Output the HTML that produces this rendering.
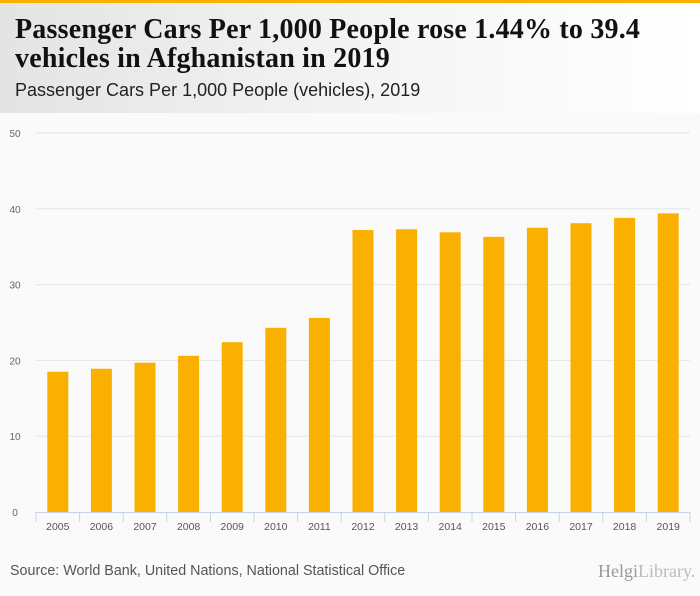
<!DOCTYPE html>
<html><head><meta charset="utf-8"><style>
body{margin:0;width:700px;height:596px;background:#fafafa;font-family:"Liberation Sans",sans-serif;overflow:hidden;position:relative}
#top{position:absolute;left:0;top:0;width:700px;height:3px;background:#f9b000}
#hdr{position:absolute;left:0;top:3px;width:700px;height:110px;background:linear-gradient(to right,#e4e4e4,#f6f6f6 60%,#ffffff)}
h1{position:absolute;left:15px;top:15px;margin:0;font-family:"Liberation Serif",serif;font-weight:bold;font-size:28px;line-height:29px;color:#111;letter-spacing:0.2px}
#sub{position:absolute;left:15px;top:80px;font-size:18px;color:#222}
#src{position:absolute;left:10px;top:563px;font-size:14.3px;color:#555}
#logo{position:absolute;left:598px;top:561px;font-family:"Liberation Serif",serif;font-size:18px;color:#999}
</style></head><body>
<div id="top"></div>
<div id="hdr"></div>
<h1>Passenger Cars Per 1,000 People rose 1.44% to 39.4<br>vehicles in Afghanistan in 2019</h1>
<div id="sub">Passenger Cars Per 1,000 People (vehicles), 2019</div>
<svg id="chart" width="700" height="596" style="position:absolute;left:0;top:0"></svg>
<div id="src">Source: World Bank, United Nations, National Statistical Office</div>
<div id="logo">Helgi<span style="color:#bbb">Library.</span></div>
<script>
const categories=["2005","2006","2007","2008","2009","2010","2011","2012","2013","2014","2015","2016","2017","2018","2019"];
const values=[18.5,18.9,19.7,20.6,22.4,24.3,25.6,37.2,37.3,36.9,36.3,37.5,38.1,38.8,39.4];
const yTicks=[0,10,20,30,40,50];
const svg=document.getElementById('chart');
const NS='http://www.w3.org/2000/svg';
const x0=36,x1=690,yBase=512,yTop=133,yMax=50;
const bw=(x1-x0)/categories.length;
function y(v){return yBase-(v/yMax)*(yBase-yTop);}
function xc(i){return x0+bw*(i+0.5);}
function mk(t,a){const e=document.createElementNS(NS,t);for(const k in a)e.setAttribute(k,a[k]);svg.appendChild(e);return e;}
yTicks.forEach(t=>{
  if(t>0){const g=mk('line',{x1:x0,x2:x1,y1:y(t),y2:y(t),stroke:'#e4e4e4','stroke-width':1});
  
  }
  const l=mk('text',{x:15,y:y(t)+4,'font-size':10,fill:'#666','text-anchor':'middle','font-family':'Liberation Sans, sans-serif'});
  l.textContent=t;
  
  
});
values.forEach((v,i)=>{
  const r=mk('rect',{x:xc(i)-10.5,y:y(v),width:21,height:yBase-y(v),fill:'#f9b000'});
  
  
});
const ax=mk('line',{x1:x0,x2:x1,y1:yBase+0.5,y2:yBase+0.5,stroke:'#c8d2e6','stroke-width':1});


for(let i=0;i<=categories.length;i++){
  const tk=mk('line',{x1:x0+bw*i,x2:x0+bw*i,y1:yBase,y2:yBase+10,stroke:'#c8d2e6','stroke-width':1});
  
  
}
categories.forEach((c,i)=>{
  const t=mk('text',{x:xc(i),y:530,'font-size':10.5,fill:'#555','text-anchor':'middle','font-family':'Liberation Sans, sans-serif'});
  t.textContent=c;
  
  
});
</script>
</body></html>
